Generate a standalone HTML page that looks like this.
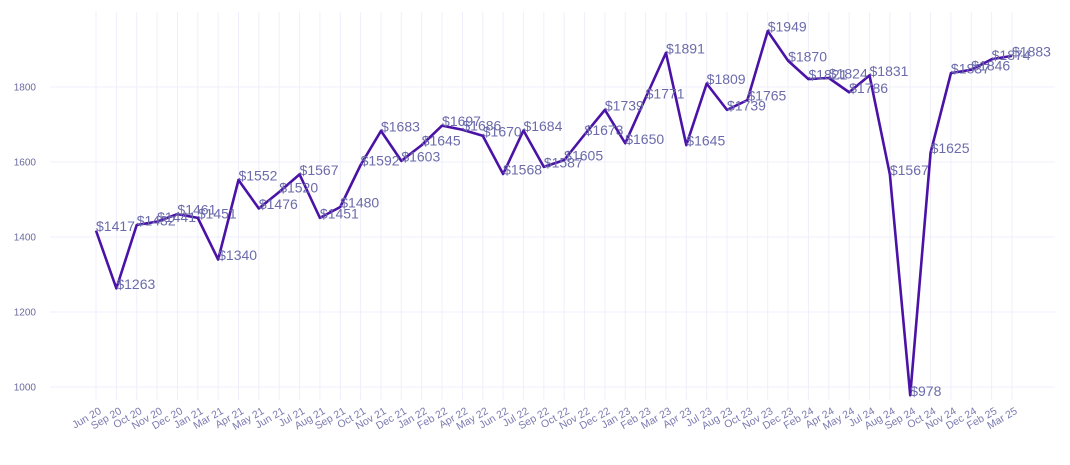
<!DOCTYPE html>
<html><head><meta charset="utf-8"><style>
body{margin:0;background:#fff;font-family:"Liberation Sans",sans-serif}
svg{display:block}
</style></head><body>
<svg id="chart" width="1070" height="465" xmlns="http://www.w3.org/2000/svg">
<g id="grid"></g>
<g id="yaxis"></g>
<g id="xaxis"></g>
<path id="line" fill="none" stroke="#4a12a6" stroke-width="2.6" stroke-linejoin="round"/>
<g id="labels"></g>
</svg>
<script>
const categories=["Jun 20","Sep 20","Oct 20","Nov 20","Dec 20","Jan 21","Mar 21","Apr 21","May 21","Jun 21","Jul 21","Aug 21","Sep 21","Oct 21","Nov 21","Dec 21","Jan 22","Feb 22","Apr 22","May 22","Jun 22","Jul 22","Sep 22","Oct 22","Nov 22","Dec 22","Jan 23","Feb 23","Mar 23","Apr 23","Jul 23","Aug 23","Oct 23","Nov 23","Dec 23","Feb 24","Apr 24","May 24","Jul 24","Aug 24","Sep 24","Oct 24","Nov 24","Dec 24","Feb 25","Mar 25"];
const values=[1417,1263,1432,1441,1461,1451,1340,1552,1476,1520,1567,1451,1480,1592,1683,1603,1645,1697,1686,1670,1568,1684,1587,1605,1673,1739,1650,1771,1891,1645,1809,1739,1765,1949,1870,1821,1824,1786,1831,1567,978,1625,1837,1846,1874,1883];
const yTicks=[1000,1200,1400,1600,1800];
const NS="http://www.w3.org/2000/svg";
const x0=96,x1=1012;
function xs(i){return x0+(x1-x0)*i/(categories.length-1);}
function ys(v){return 387-(v-1000)*0.375;}
function mk(t,a,p){const e=document.createElementNS(NS,t);for(const k in a)e.setAttribute(k,a[k]);p.appendChild(e);return e;}
const grid=document.getElementById('grid'),ya=document.getElementById('yaxis'),xa=document.getElementById('xaxis'),lb=document.getElementById('labels');
categories.forEach((c,i)=>{
  const l=mk('line',{x1:xs(i),x2:xs(i),y1:12,y2:400,stroke:'#efeffb','stroke-width':1},grid);
  
  
  const t=mk('text',{x:xs(i)+6,y:413,'font-size':10.5,fill:'#7a7ab0','text-anchor':'end',transform:`rotate(-30 ${xs(i)+6} 413)`},xa);
  t.textContent=c;
  
  
});
yTicks.forEach(v=>{
  const l=mk('line',{x1:50,x2:1055,y1:ys(v),y2:ys(v),stroke:'#efeffb','stroke-width':1},grid);
  
  
  const t=mk('text',{x:36,y:ys(v)+3.5,'font-size':10,fill:'#6a6aa0','text-anchor':'end'},ya);
  t.textContent=v;
  
  
});
document.getElementById('line').setAttribute('d',values.map((v,i)=>(i?'L':'M')+xs(i)+' '+ys(v)).join(' '));
values.forEach((v,i)=>{
  const t=mk('text',{x:xs(i),y:ys(v)+0.5,'font-size':14,fill:'#6b6bab'},lb);
  t.textContent='$'+v;
  
  
});
</script>
</body></html>
